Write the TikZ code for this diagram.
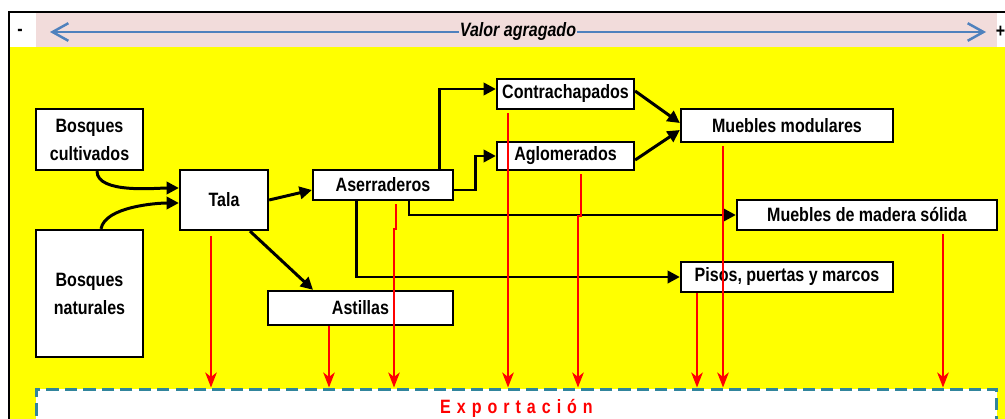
\documentclass[tikz,border=0pt]{standalone}
\usepackage{fontspec}
\setmainfont{Liberation Sans}[FakeStretch=0.83]
\usetikzlibrary{arrows.meta}
\tikzset{>={Triangle[length=7pt,width=7pt]}}
\definecolor{fondo}{HTML}{FFFF00}
\definecolor{rosado}{HTML}{F2DCDB}
\definecolor{azulvalor}{HTML}{4F81BD}
\definecolor{verdeazul}{HTML}{31859C}

\begin{document}
\begin{tikzpicture}[x=0.02cm,y=-0.02cm,
    caja/.style={draw,fill=white,line width=1.3pt,inner sep=0pt,align=center,
      font=\bfseries\fontsize{11}{16}\selectfont},
    flujo/.style={->,line width=1.7pt},
    salida/.style={-{Stealth[length=8.5pt,width=6.5pt,inset=2.5pt]},red,line width=1.5pt}]

        \useasboundingbox (0,0) rectangle (1005,419);

        % BACKGROUND
        \fill[fondo] (9,47) rectangle (1005,419);
        \fill[rosado] (36,13) rectangle (997,47);
        \draw[line width=1.3pt] (9,419) -- (9,12) -- (1005,12);

        % VALUE AXIS
        \coordinate (vmin) at (50,32);
        \coordinate (vmax) at (986,32);
        \node[font=\bfseries\fontsize{11}{13}\selectfont] (menos) at (20,32) {-};
        \node[font=\bfseries\fontsize{11}{13}\selectfont,inner sep=0pt] (mas) at (1000.5,32) {+};
        \draw[<->,>={Straight Barb[length=9pt,width=10pt]},azulvalor,line width=1.4pt] (vmin) -- (vmax)
          node[midway,fill=rosado,inner sep=0.5pt,text=black,font=\bfseries\itshape\fontsize{11}{13}\selectfont] (valor) {Valor agragado};

        % BOXES
        \node[caja,minimum width=2.14cm,minimum height=1.22cm] (cult) at (89.5,139.5) {Bosques\\cultivados};
        \node[caja,minimum width=2.14cm,minimum height=2.54cm] (nat) at (89.5,293.5) {Bosques\\naturales};
        \node[caja,minimum width=1.76cm,minimum height=1.2cm] (tala) at (224,200) {Tala};
        \node[caja,minimum width=3.7cm,minimum height=0.68cm] (ast) at (360.5,308) {Astillas};
        \node[caja,minimum width=2.8cm,minimum height=0.6cm] (aser) at (383,185) {Aserraderos};
        \node[caja,minimum width=2.74cm,minimum height=0.6cm] (contra) at (565.5,94) {Contrachapados};
        \node[caja,minimum width=2.74cm,minimum height=0.56cm] (aglo) at (565.5,156) {Aglomerados};
        \node[caja,minimum width=4.24cm,minimum height=0.66cm] (modu) at (787,125.5) {Muebles modulares};
        \node[caja,minimum width=5.2cm,minimum height=0.6cm] (solida) at (867,215) {Muebles de madera sólida};
        \node[caja,minimum width=4.24cm,minimum height=0.6cm] (pisos) at (787,277) {Pisos, puertas y marcos};
        \node[draw=verdeazul,fill=white,line width=1.7pt,dash pattern=on 7pt off 3.5pt,
          minimum width=19.22cm,minimum height=0.76cm,inner sep=0pt,text=red,
          font=\bfseries\fontsize{11}{13}\selectfont\addfontfeature{LetterSpace=31}] (expo) at (516.5,408) {Exportación};

        % FLOWS
        \draw[flujo] ([xshift=0.15cm]cult.south) to[out=-90,in=180,looseness=0.7] ([yshift=0.24cm]tala.west);
        \draw[flujo] ([xshift=0.23cm]nat.north) to[out=80,in=180,looseness=0.7] ([yshift=-0.06cm]tala.west);
        \draw[flujo] (tala.east) -- ([yshift=-0.1cm]aser.west);
        \draw[flujo] ([xshift=0.52cm]tala.south) -- ([xshift=-0.95cm]ast.north);
        \draw[flujo] ([xshift=1.14cm]aser.north) |- ([yshift=0.1cm]contra.west);
        \draw[flujo] ([yshift=-0.1cm]aser.east) -- ++(21,0) |- (aglo.west);
        \draw[flujo] ([xshift=0.52cm]aser.south) |- (solida.west);
        \draw[flujo] ([xshift=-0.54cm]aser.south) |- (pisos.west);
        \draw[flujo] ([yshift=0.06cm]contra.east) -- ([yshift=0.05cm]modu.west);
        \draw[flujo] ([yshift=-0.08cm]aglo.east) -- ([yshift=-0.09cm]modu.west);

        % EXPORTS
        \draw[salida] ([xshift=-0.26cm,yshift=-0.1cm]tala.south) coordinate (e1) -- (e1 |- expo.north);
        \draw[salida] ([xshift=-0.63cm]ast.south) coordinate (e2) -- (e2 |- expo.north);
        \draw[salida] ([xshift=0.26cm,yshift=-0.06cm]aser.south) -- ++(0,25) -- ++(-2,0) coordinate (e3) -- (e3 |- expo.north);
        \draw[salida] ([xshift=-1.15cm,yshift=-0.06cm]contra.south) coordinate (e4) -- (e4 |- expo.north);
        \draw[salida] ([xshift=0.31cm,yshift=-0.06cm]aglo.south) -- ++(0,42) -- ++(-3,0) coordinate (e5) -- (e5 |- expo.north);
        \draw[salida] ([xshift=-1.28cm,yshift=-0.06cm]modu.south) coordinate (e6) -- (e6 |- expo.north);
        \draw[salida] ([xshift=-1.8cm]pisos.south) coordinate (e7) -- (e7 |- expo.north);
        \draw[salida] ([xshift=1.52cm,yshift=-0.06cm]solida.south) coordinate (e8) -- (e8 |- expo.north);

\end{tikzpicture}
\end{document}
